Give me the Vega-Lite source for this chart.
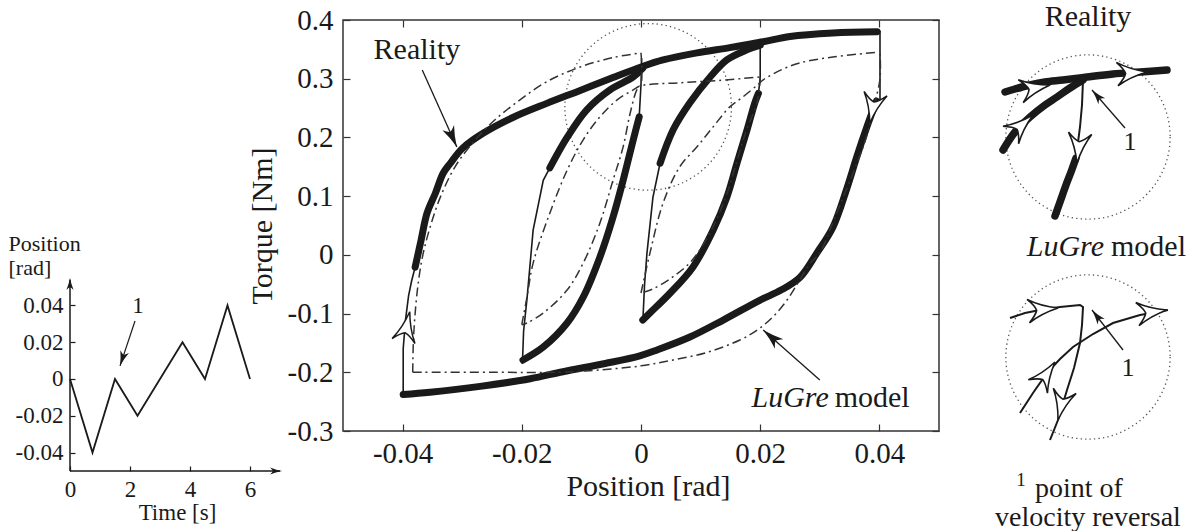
{
  "$schema": "https://vega.github.io/schema/vega-lite/v6.json",
  "background": "white",
  "padding": {"left": 8, "top": 2, "right": 0, "bottom": 0},
  "spacing": 46,
  "bounds": "flush",
  "config": {
    "font": "Liberation Serif",
    "view": {"stroke": null},
    "axis": {"grid": false, "labelFont": "Liberation Serif", "titleFont": "Liberation Serif", "titleFontWeight": "normal", "labelColor": "#1a1a1a", "titleColor": "#1a1a1a", "tickColor": "#333", "tickWidth": 1.2, "labelFlush": false, "labelOverlap": false},
    "text": {"font": "Liberation Serif", "color": "#1a1a1a"}
  },
  "datasets": {
    "motion": [
      {"t": 0, "p": 0}, {"t": 0.75, "p": -0.04}, {"t": 1.5, "p": 0}, {"t": 2.25, "p": -0.02},
      {"t": 3.75, "p": 0.02}, {"t": 4.5, "p": 0}, {"t": 5.25, "p": 0.04}, {"t": 6, "p": 0}
    ],
    "laxis": [{"t": 0, "p": -0.05, "t2": 0, "p2": 0.054}, {"t": 0, "p": -0.05, "t2": 7.0, "p2": -0.05}],
    "laxhead": [{"t": 0, "p": 0.0549, "dir": 0}, {"t": 7.07, "p": -0.05, "dir": 90}],
    "lann": [{"t": 2.167, "p": 0.0315, "t2": 1.667, "p2": 0.0071}],
    "lhead": [{"t": 1.667, "p": 0.0071, "dir": 198}],
    "llabel": [{"t": 2.27, "p": 0.0397, "label": "1"}],
    "zoomcircle": [{"x": 0.0012, "y": 0.252}],
    "reality": [
      {"s": "Rb", "x": 0.0395, "y": 0.262}, {"s": "Rb", "x": 0.0379, "y": 0.218}, {"s": "Rb", "x": 0.0362, "y": 0.167},
      {"s": "Rb", "x": 0.0346, "y": 0.115}, {"s": "Rb", "x": 0.0322, "y": 0.047}, {"s": "Rb", "x": 0.0295, "y": 0.003},
      {"s": "Rb", "x": 0.0267, "y": -0.038}, {"s": "Rb", "x": 0.0235, "y": -0.06}, {"s": "Rb", "x": 0.02, "y": -0.077},
      {"s": "Rb", "x": 0.0138, "y": -0.111}, {"s": "Rb", "x": 0.0082, "y": -0.14}, {"s": "Rb", "x": 0.0027, "y": -0.162},
      {"s": "Rb", "x": -0.0002, "y": -0.172}, {"s": "Rb", "x": -0.006, "y": -0.185}, {"s": "Rb", "x": -0.0131, "y": -0.199},
      {"s": "Rb", "x": -0.0186, "y": -0.211}, {"s": "Rb", "x": -0.027, "y": -0.224}, {"s": "Rb", "x": -0.0354, "y": -0.234},
      {"s": "Rb", "x": -0.0399, "y": -0.238},
      {"s": "Ra", "x": -0.0379, "y": -0.021}, {"s": "Ra", "x": -0.0369, "y": 0.025}, {"s": "Ra", "x": -0.0359, "y": 0.071},
      {"s": "Ra", "x": -0.0345, "y": 0.105}, {"s": "Ra", "x": -0.0332, "y": 0.139}, {"s": "Ra", "x": -0.032, "y": 0.156},
      {"s": "Ra", "x": -0.0299, "y": 0.182}, {"s": "Ra", "x": -0.0265, "y": 0.207}, {"s": "Ra", "x": -0.0215, "y": 0.234},
      {"s": "Ra", "x": -0.0158, "y": 0.258}, {"s": "Ra", "x": -0.0102, "y": 0.28}, {"s": "Ra", "x": -0.0047, "y": 0.302},
      {"s": "Ra", "x": 0, "y": 0.32}, {"s": "Ra", "x": 0.0037, "y": 0.332}, {"s": "Ra", "x": 0.0094, "y": 0.344},
      {"s": "Ra", "x": 0.0149, "y": 0.353}, {"s": "Ra", "x": 0.0205, "y": 0.363}, {"s": "Ra", "x": 0.025, "y": 0.372},
      {"s": "Ra", "x": 0.0322, "y": 0.378}, {"s": "Ra", "x": 0.0396, "y": 0.38},
      {"s": "Rc", "x": -0.0003, "y": 0.235}, {"s": "Rc", "x": -0.0013, "y": 0.196}, {"s": "Rc", "x": -0.003, "y": 0.127},
      {"s": "Rc", "x": -0.0047, "y": 0.064}, {"s": "Rc", "x": -0.0069, "y": -0.004}, {"s": "Rc", "x": -0.0097, "y": -0.072},
      {"s": "Rc", "x": -0.0124, "y": -0.116}, {"s": "Rc", "x": -0.0164, "y": -0.157}, {"s": "Rc", "x": -0.0198, "y": -0.179},
      {"s": "Rd", "x": -0.0153, "y": 0.148}, {"s": "Rd", "x": -0.0124, "y": 0.2}, {"s": "Rd", "x": -0.0091, "y": 0.247},
      {"s": "Rd", "x": -0.0052, "y": 0.281}, {"s": "Rd", "x": -0.0013, "y": 0.303}, {"s": "Rd", "x": 0.0003, "y": 0.318},
      {"s": "Re", "x": 0.0197, "y": 0.275}, {"s": "Re", "x": 0.0191, "y": 0.259}, {"s": "Re", "x": 0.0178, "y": 0.213},
      {"s": "Re", "x": 0.0161, "y": 0.156}, {"s": "Re", "x": 0.0144, "y": 0.098}, {"s": "Re", "x": 0.0121, "y": 0.042},
      {"s": "Re", "x": 0.0087, "y": -0.021}, {"s": "Re", "x": 0.0049, "y": -0.065}, {"s": "Re", "x": 0.0015, "y": -0.099},
      {"s": "Re", "x": 0.0003, "y": -0.111},
      {"s": "Rf", "x": 0.0032, "y": 0.156}, {"s": "Rf", "x": 0.0054, "y": 0.213}, {"s": "Rf", "x": 0.0082, "y": 0.259},
      {"s": "Rf", "x": 0.0116, "y": 0.303}, {"s": "Rf", "x": 0.0144, "y": 0.332}, {"s": "Rf", "x": 0.0175, "y": 0.348},
      {"s": "Rf", "x": 0.02, "y": 0.357}
    ],
    "realitythin": [
      {"s": "t1", "x": 0.0401, "y": 0.382}, {"s": "t1", "x": 0.0401, "y": 0.26},
      {"s": "t2", "x": -0.0399, "y": -0.238}, {"s": "t2", "x": -0.0399, "y": -0.16}, {"s": "t2", "x": -0.0395, "y": -0.11},
      {"s": "t2", "x": -0.039, "y": -0.07}, {"s": "t2", "x": -0.0385, "y": -0.045}, {"s": "t2", "x": -0.0379, "y": -0.021},
      {"s": "t3", "x": 0.0001, "y": 0.335}, {"s": "t3", "x": 0, "y": 0.29}, {"s": "t3", "x": -0.0003, "y": 0.235},
      {"s": "t4", "x": -0.0199, "y": -0.186}, {"s": "t4", "x": -0.0197, "y": -0.13}, {"s": "t4", "x": -0.0191, "y": -0.072},
      {"s": "t4", "x": -0.0181, "y": 0.042}, {"s": "t4", "x": -0.0164, "y": 0.127}, {"s": "t4", "x": -0.0153, "y": 0.148},
      {"s": "t5", "x": 0.02, "y": 0.368}, {"s": "t5", "x": 0.02, "y": 0.3}, {"s": "t5", "x": 0.0197, "y": 0.275},
      {"s": "t6", "x": 0.0003, "y": -0.115}, {"s": "t6", "x": 0.0006, "y": -0.05}, {"s": "t6", "x": 0.001, "y": 0.003},
      {"s": "t6", "x": 0.002, "y": 0.098}, {"s": "t6", "x": 0.0032, "y": 0.156}
    ],
    "lugre": [
      {"s": "Lb", "x": -0.0383, "y": -0.2}, {"s": "Lb", "x": -0.025, "y": -0.2}, {"s": "Lb", "x": -0.014, "y": -0.2},
      {"s": "Lb", "x": -0.007, "y": -0.196}, {"s": "Lb", "x": 0, "y": -0.189}, {"s": "Lb", "x": 0.0054, "y": -0.179},
      {"s": "Lb", "x": 0.0111, "y": -0.166}, {"s": "Lb", "x": 0.0166, "y": -0.145}, {"s": "Lb", "x": 0.0195, "y": -0.128},
      {"s": "Lb", "x": 0.0221, "y": -0.106}, {"s": "Lb", "x": 0.0245, "y": -0.077}, {"s": "Lb", "x": 0.0265, "y": -0.045},
      {"s": "Lb", "x": 0.0284, "y": -0.014}, {"s": "Lb", "x": 0.03, "y": 0.003}, {"s": "Lb", "x": 0.032, "y": 0.05},
      {"s": "Lb", "x": 0.034, "y": 0.1}, {"s": "Lb", "x": 0.036, "y": 0.15}, {"s": "Lb", "x": 0.0378, "y": 0.2},
      {"s": "Lb", "x": 0.039, "y": 0.25}, {"s": "Lb", "x": 0.0401, "y": 0.3}, {"s": "Lb", "x": 0.0401, "y": 0.345},
      {"s": "La", "x": -0.0383, "y": -0.2}, {"s": "La", "x": -0.0382, "y": -0.15}, {"s": "La", "x": -0.0379, "y": -0.1},
      {"s": "La", "x": -0.0374, "y": -0.05}, {"s": "La", "x": -0.0366, "y": 0}, {"s": "La", "x": -0.0353, "y": 0.05},
      {"s": "La", "x": -0.0336, "y": 0.1}, {"s": "La", "x": -0.0312, "y": 0.15}, {"s": "La", "x": -0.0283, "y": 0.19},
      {"s": "La", "x": -0.0245, "y": 0.23}, {"s": "La", "x": -0.0203, "y": 0.264}, {"s": "La", "x": -0.0158, "y": 0.295},
      {"s": "La", "x": -0.0102, "y": 0.32}, {"s": "La", "x": -0.0047, "y": 0.336}, {"s": "La", "x": 0, "y": 0.344},
      {"s": "Lc", "x": 0, "y": 0.344}, {"s": "Lc", "x": 0, "y": 0.29}, {"s": "Lc", "x": -0.0007, "y": 0.281},
      {"s": "Lc", "x": -0.0018, "y": 0.242}, {"s": "Lc", "x": -0.003, "y": 0.184}, {"s": "Lc", "x": -0.0047, "y": 0.127},
      {"s": "Lc", "x": -0.0069, "y": 0.054}, {"s": "Lc", "x": -0.0097, "y": -0.014}, {"s": "Lc", "x": -0.0124, "y": -0.06},
      {"s": "Lc", "x": -0.0164, "y": -0.099}, {"s": "Lc", "x": -0.0191, "y": -0.116}, {"s": "Lc", "x": -0.02, "y": -0.119},
      {"s": "Ld", "x": -0.02, "y": -0.119}, {"s": "Ld", "x": -0.0191, "y": -0.07}, {"s": "Ld", "x": -0.0181, "y": -0.014},
      {"s": "Ld", "x": -0.0153, "y": 0.071}, {"s": "Ld", "x": -0.0124, "y": 0.144}, {"s": "Ld", "x": -0.0097, "y": 0.196},
      {"s": "Ld", "x": -0.0069, "y": 0.235}, {"s": "Ld", "x": -0.004, "y": 0.264}, {"s": "Ld", "x": -0.0013, "y": 0.281},
      {"s": "Ld", "x": 0, "y": 0.288}, {"s": "Ld", "x": 0.0065, "y": 0.293}, {"s": "Ld", "x": 0.013, "y": 0.297},
      {"s": "Ld", "x": 0.02, "y": 0.303},
      {"s": "Le", "x": 0.02, "y": 0.303}, {"s": "Le", "x": 0.0195, "y": 0.26}, {"s": "Le", "x": 0.0176, "y": 0.21},
      {"s": "Le", "x": 0.016, "y": 0.156}, {"s": "Le", "x": 0.0142, "y": 0.098}, {"s": "Le", "x": 0.0118, "y": 0.042},
      {"s": "Le", "x": 0.0085, "y": -0.01}, {"s": "Le", "x": 0.005, "y": -0.04}, {"s": "Le", "x": 0.002, "y": -0.058},
      {"s": "Le", "x": 0, "y": -0.065},
      {"s": "Lf", "x": 0, "y": -0.065}, {"s": "Lf", "x": 0.0015, "y": 0.003}, {"s": "Lf", "x": 0.0037, "y": 0.088},
      {"s": "Lf", "x": 0.0065, "y": 0.15}, {"s": "Lf", "x": 0.0094, "y": 0.184}, {"s": "Lf", "x": 0.0121, "y": 0.218},
      {"s": "Lf", "x": 0.0149, "y": 0.252}, {"s": "Lf", "x": 0.0171, "y": 0.269}, {"s": "Lf", "x": 0.0195, "y": 0.289},
      {"s": "Lf", "x": 0.0205, "y": 0.298}, {"s": "Lf", "x": 0.0235, "y": 0.315}, {"s": "Lf", "x": 0.0267, "y": 0.327},
      {"s": "Lf", "x": 0.0322, "y": 0.337}, {"s": "Lf", "x": 0.0396, "y": 0.345}
    ],
    "openarrows": [{"x": -0.0388, "y": -0.097, "dir": 12}, {"x": 0.0384, "y": 0.2245, "dir": 191}],
    "annlines": [{"x": -0.0367, "y": 0.315, "x2": -0.0309, "y2": 0.1836}, {"x": 0.03, "y": -0.2133, "x2": 0.0205, "y2": -0.128}],
    "annheads": [{"x": -0.0309, "y": 0.1836, "dir": 156}, {"x": 0.0205, "y": -0.128, "dir": -49}],
    "maintext": [{"x": -0.0376, "y": 0.349, "label": "Reality"}],
    "lugretext": [{"x": 0.0315, "y": -0.244, "label": "LuGre"}],
    "modeltext": [{"x": 0.0325, "y": -0.244, "label": "model"}],
    "rcircles": [{"u": 10.3, "v": 11.7}, {"u": 10.3, "v": 33.7}],
    "rthick": [
      {"s": "A", "u": 2.0, "v": 7.2}, {"s": "A", "u": 3.0, "v": 6.9}, {"s": "A", "u": 4.5, "v": 6.5}, {"s": "A", "u": 6.0, "v": 6.2},
      {"s": "A", "u": 7.8, "v": 6.0}, {"s": "A", "u": 10.2, "v": 5.7}, {"s": "A", "u": 12.8, "v": 5.4}, {"s": "A", "u": 15.5, "v": 5.2},
      {"s": "A", "u": 18.2, "v": 5.0},
      {"s": "B", "u": 1.8, "v": 13.0}, {"s": "B", "u": 3.0, "v": 11.2}, {"s": "B", "u": 4.5, "v": 9.7}, {"s": "B", "u": 6.0, "v": 8.5},
      {"s": "B", "u": 7.2, "v": 7.7}, {"s": "B", "u": 8.5, "v": 6.8}, {"s": "B", "u": 9.8, "v": 6.0},
      {"s": "C", "u": 9.1, "v": 13.8}, {"s": "C", "u": 8.6, "v": 15.2}, {"s": "C", "u": 8.1, "v": 16.5}, {"s": "C", "u": 7.5, "v": 18.2},
      {"s": "C", "u": 7.0, "v": 19.6}
    ],
    "rthin": [
      {"s": "R", "u": 9.8, "v": 6.0}, {"s": "R", "u": 9.7, "v": 8.5}, {"s": "R", "u": 9.5, "v": 10.7}, {"s": "R", "u": 9.2, "v": 13.0},
      {"s": "P", "u": 2.5, "v": 29.8}, {"s": "P", "u": 4.0, "v": 29.3}, {"s": "P", "u": 5.5, "v": 29.0}, {"s": "P", "u": 7.5, "v": 28.7},
      {"s": "P", "u": 9.5, "v": 28.5}, {"s": "P", "u": 9.8, "v": 28.7}, {"s": "P", "u": 9.7, "v": 30.5}, {"s": "P", "u": 9.5, "v": 32.3},
      {"s": "P", "u": 8.9, "v": 34.8}, {"s": "P", "u": 8.2, "v": 37.0}, {"s": "P", "u": 7.3, "v": 40.0}, {"s": "P", "u": 6.5, "v": 42.0},
      {"s": "Q", "u": 3.5, "v": 39.3}, {"s": "Q", "u": 4.8, "v": 37.3}, {"s": "Q", "u": 6.2, "v": 35.3}, {"s": "Q", "u": 7.5, "v": 33.9},
      {"s": "Q", "u": 8.8, "v": 32.7}, {"s": "Q", "u": 10.8, "v": 31.4}, {"s": "Q", "u": 12.8, "v": 30.3}, {"s": "Q", "u": 15.5, "v": 29.5},
      {"s": "Q", "u": 18.3, "v": 29.0}
    ],
    "rarrows": [
      {"u": 16.2, "v": 5.2, "dir": 86}, {"u": 6.5, "v": 6.5, "dir": 78}, {"u": 4.8, "v": 9.5, "dir": 48}, {"u": 9.2, "v": 14.3, "dir": 186},
      {"u": 7.3, "v": 28.8, "dir": 84}, {"u": 7.3, "v": 40.0, "dir": 193}, {"u": 7.0, "v": 34.2, "dir": 35}, {"u": 18.2, "v": 29.0, "dir": 82}
    ],
    "rann": [{"u": 14.0, "v": 10.8, "u2": 10.7, "v2": 7.0}, {"u": 13.8, "v": 33.0, "u2": 10.7, "v2": 29.0}],
    "rheads": [{"u": 10.7, "v": 7.0, "dir": -41}, {"u": 10.7, "v": 29.0, "dir": -38}],
    "rcenter": [{"u": 10.3, "v": -0.3, "label": "Reality"}],
    "rbottom": [{"u": 10.3, "v": 49.8, "label": "velocity reversal"}],
    "ritalic": [{"u": 11.9, "v": 22.7, "label": "LuGre"}],
    "rleft": [{"u": 12.6, "v": 22.7, "label": "model"}],
    "rpoint": [{"u": 5.0, "v": 46.9, "label": "point of"}],
    "rone": [{"u": 14.5, "v": 12.2, "label": "1"}, {"u": 14.3, "v": 34.8, "label": "1"}],
    "rsup": [{"u": 3.6, "v": 46.0, "label": "1"}]
  },
  "hconcat": [
    {
      "width": 227,
      "height": 451,
      "encoding": {
        "x": {"field": "t", "type": "quantitative", "scale": {"domain": [0, 7.567], "nice": false, "zero": false},
          "axis": {"values": [0, 2, 4, 6], "format": "d", "domain": false, "tickSize": -5, "tickColor": "#1a1a1a", "labelFontSize": 23, "labelPadding": 12, "title": "Time [s]", "titleFontSize": 23, "titlePadding": 0, "titleX": 107}},
        "y": {"field": "p", "type": "quantitative", "scale": {"domain": [-0.05, 0.1951], "nice": false, "zero": false},
          "axis": {"values": [-0.04, -0.02, 0, 0.02, 0.04], "domain": false, "tickSize": -5, "tickColor": "#1a1a1a", "labelFontSize": 23, "labelPadding": 12,
            "labelExpr": "datum.value == 0 ? '0' : replace(format(datum.value, '.2f'), '\u2212', '-')",
            "title": ["Position", "[rad]"], "titleAngle": 0, "titleAlign": "left", "titleBaseline": "top", "titleX": -62, "titleY": 213, "titleFontSize": 22, "titleLineHeight": 24}}
      },
      "layer": [
        {"data": {"name": "motion"}, "mark": {"type": "line", "color": "#1a1a1a", "strokeWidth": 1.8}, "encoding": {"order": {"value": null}}},
        {"data": {"name": "laxis"}, "mark": {"type": "rule", "color": "#1a1a1a", "strokeWidth": 1.5}, "encoding": {"x2": {"field": "t2"}, "y2": {"field": "p2"}}},
        {"data": {"name": "laxhead"}, "mark": {"type": "point", "shape": "M0,0 Q0.22,1.1 0.6,2 Q0.2,1.6 0,1.55 Q-0.2,1.6 -0.6,2 Q-0.22,1.1 0,0 Z", "filled": true, "color": "#1a1a1a", "opacity": 1, "size": 144, "strokeWidth": 0},
          "encoding": {"angle": {"field": "dir", "type": "quantitative", "scale": null}}},
        {"data": {"name": "lann"}, "mark": {"type": "rule", "color": "#1a1a1a", "strokeWidth": 1.2}, "encoding": {"x2": {"field": "t2"}, "y2": {"field": "p2"}}},
        {"data": {"name": "lhead"}, "mark": {"type": "point", "shape": "M0,0 Q0.22,1.1 0.6,2 Q0.2,1.6 0,1.55 Q-0.2,1.6 -0.6,2 Q-0.22,1.1 0,0 Z", "filled": true, "color": "#1a1a1a", "opacity": 1, "size": 225, "strokeWidth": 0},
          "encoding": {"angle": {"field": "dir", "type": "quantitative", "scale": null}}},
        {"data": {"name": "llabel"}, "mark": {"type": "text", "fontSize": 23, "align": "center", "baseline": "middle"}, "encoding": {"text": {"field": "label"}}}
      ]
    },
    {
      "width": 596,
      "height": 411,
      "view": {"stroke": "#333", "strokeWidth": 1.5},
      "resolve": {"axis": {"x": "independent", "y": "independent"}},
      "encoding": {
        "x": {"field": "x", "type": "quantitative", "scale": {"domain": [-0.05, 0.05], "nice": false, "zero": false}, "axis": null},
        "y": {"field": "y", "type": "quantitative", "scale": {"domain": [-0.3, 0.4], "nice": false, "zero": false}, "axis": null}
      },
      "layer": [
        {
          "data": {"name": "zoomcircle"},
          "mark": {"type": "point", "shape": "circle", "size": 27759, "filled": false, "stroke": "#555", "strokeWidth": 1.3, "strokeDash": [1.3, 3.2], "opacity": 1, "clip": true},
          "encoding": {
            "x": {"field": "x", "type": "quantitative", "scale": {"domain": [-0.05, 0.05], "nice": false, "zero": false},
              "axis": {"orient": "bottom", "values": [-0.04, -0.02, 0, 0.02, 0.04], "domain": false, "tickSize": -7, "labelFontSize": 29, "labelPadding": 15,
                "labelExpr": "datum.value == 0 ? '0' : replace(format(datum.value, '.2f'), '\u2212', '-')",
                "title": "Position [rad]", "titleFontSize": 30, "titlePadding": 3, "titleX": 305}},
            "y": {"field": "y", "type": "quantitative", "scale": {"domain": [-0.3, 0.4], "nice": false, "zero": false},
              "axis": {"orient": "left", "values": [-0.3, -0.2, -0.1, 0, 0.1, 0.2, 0.3, 0.4], "domain": false, "tickSize": -7, "labelFontSize": 29, "labelPadding": 17,
                "labelExpr": "datum.value == 0 ? '0' : replace(format(datum.value, '.1f'), '\u2212', '-')",
                "title": "Torque [Nm]", "titleFontSize": 30, "titlePadding": 10}}
          }
        },
        {
          "data": {"name": "reality"},
          "mark": {"type": "line", "color": "#1a1a1a", "strokeWidth": 7, "strokeCap": "round", "strokeJoin": "round", "interpolate": "catmull-rom"},
          "encoding": {
            "x": {"field": "x", "type": "quantitative", "scale": {"domain": [-0.05, 0.05], "nice": false, "zero": false},
              "axis": {"orient": "top", "values": [-0.04, -0.02, 0, 0.02, 0.04], "domain": false, "tickSize": -7, "labels": false, "title": null}},
            "y": {"field": "y", "type": "quantitative", "scale": {"domain": [-0.3, 0.4], "nice": false, "zero": false},
              "axis": {"orient": "right", "values": [-0.3, -0.2, -0.1, 0, 0.1, 0.2, 0.3, 0.4], "domain": false, "tickSize": -7, "labels": false, "title": null}},
            "detail": {"field": "s", "type": "nominal"},
            "order": {"value": null}
          }
        },
        {
          "data": {"name": "realitythin"},
          "mark": {"type": "line", "color": "#1a1a1a", "strokeWidth": 1.6},
          "encoding": {"detail": {"field": "s", "type": "nominal"}, "order": {"value": null}}
        },
        {
          "data": {"name": "lugre"},
          "mark": {"type": "line", "color": "#333", "strokeWidth": 1.5, "strokeDash": [9, 4, 2, 4], "interpolate": "catmull-rom"},
          "encoding": {"detail": {"field": "s", "type": "nominal"}, "order": {"value": null}}
        },
        {
          "data": {"name": "openarrows"},
          "mark": {"type": "point", "shape": "M0,0 Q0.28,1.3 0.9,2.3 Q0.35,1.75 0,1.65 Q-0.35,1.75 -0.9,2.3 Q-0.28,1.3 0,0 Z", "filled": true, "fill": "white", "stroke": "#1a1a1a", "strokeWidth": 1.5, "opacity": 1, "size": 676},
          "encoding": {"angle": {"field": "dir", "type": "quantitative", "scale": null}}
        },
        {"data": {"name": "annlines"}, "mark": {"type": "rule", "color": "#1a1a1a", "strokeWidth": 1.3}, "encoding": {"x2": {"field": "x2"}, "y2": {"field": "y2"}}},
        {
          "data": {"name": "annheads"},
          "mark": {"type": "point", "shape": "M0,0 Q0.22,1.1 0.6,2 Q0.2,1.6 0,1.55 Q-0.2,1.6 -0.6,2 Q-0.22,1.1 0,0 Z", "filled": true, "color": "#1a1a1a", "opacity": 1, "size": 450, "strokeWidth": 0},
          "encoding": {"angle": {"field": "dir", "type": "quantitative", "scale": null}}
        },
        {"data": {"name": "maintext"}, "mark": {"type": "text", "fontSize": 30, "align": "center", "baseline": "middle"}, "encoding": {"text": {"field": "label"}}},
        {"data": {"name": "lugretext"}, "mark": {"type": "text", "fontSize": 30, "align": "right", "baseline": "middle", "fontStyle": "italic"}, "encoding": {"text": {"field": "label"}}},
        {"data": {"name": "modeltext"}, "mark": {"type": "text", "fontSize": 30, "align": "left", "baseline": "middle"}, "encoding": {"text": {"field": "label"}}}
      ]
    },
    {
      "width": 210,
      "height": 500,
      "encoding": {
        "x": {"field": "u", "type": "quantitative", "scale": {"domain": [0, 21], "nice": false, "zero": false}, "axis": null},
        "y": {"field": "v", "type": "quantitative", "scale": {"domain": [0, 50], "nice": false, "zero": false, "reverse": true}, "axis": null}
      },
      "layer": [
        {"data": {"name": "rcircles"}, "mark": {"type": "point", "shape": "circle", "size": 27000, "filled": false, "stroke": "#555", "strokeWidth": 1.3, "strokeDash": [1.3, 3.2], "opacity": 1}},
        {"data": {"name": "rthick"}, "mark": {"type": "line", "color": "#1a1a1a", "strokeWidth": 7.5, "strokeCap": "round", "strokeJoin": "round", "interpolate": "catmull-rom"},
          "encoding": {"detail": {"field": "s", "type": "nominal"}, "order": {"value": null}}},
        {"data": {"name": "rthin"}, "mark": {"type": "line", "color": "#1a1a1a", "strokeWidth": 2},
          "encoding": {"detail": {"field": "s", "type": "nominal"}, "order": {"value": null}}},
        {"data": {"name": "rarrows"},
          "mark": {"type": "point", "shape": "M0,0 Q0.28,1.3 0.9,2.3 Q0.35,1.75 0,1.65 Q-0.35,1.75 -0.9,2.3 Q-0.28,1.3 0,0 Z", "filled": true, "fill": "white", "stroke": "#1a1a1a", "strokeWidth": 1.6, "opacity": 1, "size": 676},
          "encoding": {"angle": {"field": "dir", "type": "quantitative", "scale": null}}},
        {"data": {"name": "rann"}, "mark": {"type": "rule", "color": "#1a1a1a", "strokeWidth": 1.3}, "encoding": {"x2": {"field": "u2"}, "y2": {"field": "v2"}}},
        {"data": {"name": "rheads"},
          "mark": {"type": "point", "shape": "M0,0 Q0.22,1.1 0.6,2 Q0.2,1.6 0,1.55 Q-0.2,1.6 -0.6,2 Q-0.22,1.1 0,0 Z", "filled": true, "color": "#1a1a1a", "opacity": 1, "size": 225, "strokeWidth": 0},
          "encoding": {"angle": {"field": "dir", "type": "quantitative", "scale": null}}},
        {"data": {"name": "rcenter"}, "mark": {"type": "text", "fontSize": 30, "align": "center", "baseline": "middle"}, "encoding": {"text": {"field": "label"}}},
        {"data": {"name": "rbottom"}, "mark": {"type": "text", "fontSize": 28, "align": "center", "baseline": "middle"}, "encoding": {"text": {"field": "label"}}},
        {"data": {"name": "ritalic"}, "mark": {"type": "text", "fontSize": 30, "align": "right", "baseline": "middle", "fontStyle": "italic"}, "encoding": {"text": {"field": "label"}}},
        {"data": {"name": "rleft"}, "mark": {"type": "text", "fontSize": 30, "align": "left", "baseline": "middle"}, "encoding": {"text": {"field": "label"}}},
        {"data": {"name": "rpoint"}, "mark": {"type": "text", "fontSize": 28, "align": "left", "baseline": "middle"}, "encoding": {"text": {"field": "label"}}},
        {"data": {"name": "rone"}, "mark": {"type": "text", "fontSize": 26, "align": "center", "baseline": "middle"}, "encoding": {"text": {"field": "label"}}},
        {"data": {"name": "rsup"}, "mark": {"type": "text", "fontSize": 19, "align": "center", "baseline": "middle"}, "encoding": {"text": {"field": "label"}}}
      ]
    }
  ]
}
